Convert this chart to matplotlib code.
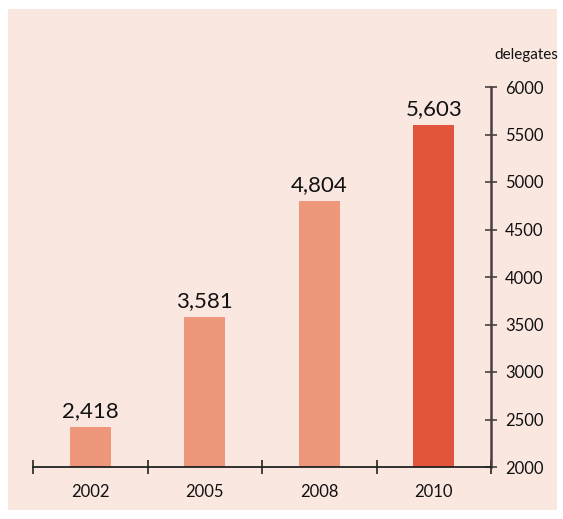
import matplotlib.pyplot as plt
from matplotlib.patches import Rectangle

years = ['2002', '2005', '2008', '2010']
delegates = [2418, 3581, 4804, 5603]
bar_colors = ['#ee977a', '#ee977a', '#ee977a', '#e2553a']
y_ticks = [2000, 2500, 3000, 3500, 4000, 4500, 5000, 5500, 6000]

plt.rcParams['font.family'] = ['Lato', 'DejaVu Sans']

fig = plt.figure(figsize=(5.63, 5.19), dpi=100)
fig.patch.set_facecolor('white')
fig.patches.append(Rectangle((8 / 563, 9 / 519), 549 / 563, 501 / 519,
                             transform=fig.transFigure, facecolor='#fae8e0',
                             edgecolor='none', zorder=-10))

ax = fig.add_axes([33 / 563, 52 / 519, 458 / 563, 380 / 519])
ax.set_zorder(1)
ax.set_facecolor('none')

x = range(len(years))
ax.bar(x, delegates, width=0.36, color=bar_colors, zorder=2)
for i, v in enumerate(delegates):
    ax.text(i, v + 60, f'{v:,}', ha='center', va='bottom', fontsize=16, color='#111111')

ax.set_xlim(-0.5, 3.5)
ax.set_ylim(2000, 6000)
ax.set_xticks([-0.5, 0.5, 1.5, 2.5, 3.5])
ax.set_xticklabels([])
ax.set_xticks(list(x), minor=True)
ax.set_xticklabels(years, minor=True, fontsize=12, color='#111111')
ax.tick_params(axis='x', which='major', direction='inout', length=10, width=1.2, color='#222222')
ax.tick_params(axis='x', which='minor', length=0, pad=12)

ax.yaxis.tick_right()
ax.set_yticks(y_ticks)
ax.set_yticklabels([str(t) for t in y_ticks], fontsize=12, color='#111111')
ax.tick_params(axis='y', direction='inout', length=8, width=1.2, color='#4a4040', pad=6)

for side in ['left', 'top']:
    ax.spines[side].set_visible(False)
ax.spines['bottom'].set_color('#222222')
ax.spines['bottom'].set_linewidth(1.3)
ax.spines['right'].set_color('#4a4040')
ax.spines['right'].set_linewidth(1.8)

fig.text(526 / 563, 1 - 55 / 519, 'delegates', ha='center', va='center', fontsize=11, color='#111111')

fig.savefig('out.png', dpi=100)
